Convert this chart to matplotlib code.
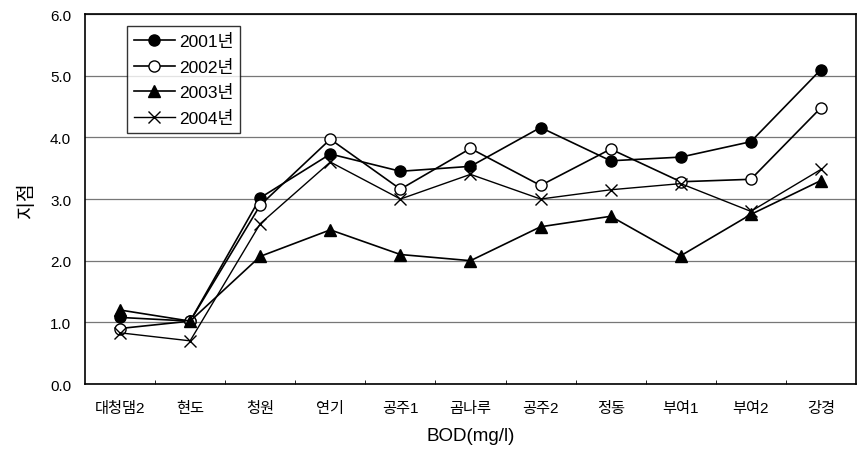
import matplotlib
matplotlib.use("Agg")
import matplotlib.pyplot as plt
import numpy as np

plt.rcParams['font.family'] = ['Liberation Sans', 'Noto Sans CJK KR', 'DejaVu Sans']

# stations along the river
stations = ['대청댐2', '현도', '청원', '연기', '공주1', '곰나루', '공주2', '정동', '부여1', '부여2', '강경']

# BOD (mg/l) per year
bod_2001 = [1.08, 1.02, 3.02, 3.73, 3.45, 3.53, 4.16, 3.62, 3.68, 3.93, 5.10]
bod_2002 = [0.90, 1.02, 2.90, 3.97, 3.16, 3.82, 3.22, 3.81, 3.28, 3.32, 4.48]
bod_2003 = [1.20, 1.02, 2.07, 2.50, 2.10, 2.00, 2.55, 2.72, 2.08, 2.75, 3.30]
bod_2004 = [0.83, 0.70, 2.60, 3.60, 3.00, 3.40, 3.00, 3.15, 3.25, 2.80, 3.48]

fig = plt.figure(figsize=(8.57, 4.56), dpi=100)
ax = fig.add_axes([0.0992, 0.1557, 0.8996, 0.8113])

x = np.arange(len(stations))
ax.plot(x, bod_2001, color='black', lw=1.2, marker='o', ms=8, mfc='black', label='2001년')
ax.plot(x, bod_2002, color='black', lw=1.2, marker='o', ms=8, mfc='white', label='2002년')
ax.plot(x, bod_2003, color='black', lw=1.2, marker='^', ms=8, mfc='black', label='2003년')
ax.plot(x, bod_2004, color='black', lw=1.0, marker='x', ms=9, mew=1.0, label='2004년')

ax.set_xlim(-0.5, len(stations) - 0.5)
ax.set_ylim(0, 6)
ax.set_yticks(np.arange(0, 6.1, 1.0))
ax.set_yticklabels([f'{v:.1f}' for v in np.arange(0, 6.1, 1.0)], fontsize=11)
ax.set_xticks(x)
ax.set_xticklabels(stations, fontsize=11)
ax.set_xticks(np.arange(0.5, len(stations) - 1, 1.0), minor=True)
ax.tick_params(axis='x', which='major', length=0, pad=12)
ax.tick_params(axis='x', which='minor', length=3, direction='in')
ax.tick_params(axis='y', length=0, pad=10)

ax.grid(axis='y', color='#777777', lw=0.9)
ax.set_axisbelow(True)
for s in ax.spines.values():
    s.set_color('black')
    s.set_linewidth(1.2)

ax.set_xlabel('BOD(mg/l)', fontsize=13.5, labelpad=9)
ax.set_ylabel('지점', fontsize=14, labelpad=10)

leg = ax.legend(loc='upper left', bbox_to_anchor=(0.054, 0.967), borderaxespad=0,
                fontsize=12.5, frameon=True, fancybox=False, edgecolor='black',
                handlelength=2.4, borderpad=0.4, labelspacing=0.55, handletextpad=0.2)
leg.get_frame().set_linewidth(1.0)

fig.savefig('out.png', dpi=100)
